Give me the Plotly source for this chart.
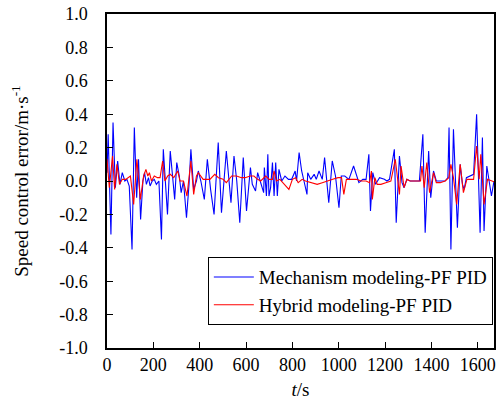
import plotly.graph_objects as go

# Mechanism modeling-PF PID (blue)
t_mech = [0, 5, 17, 26, 36, 46, 56, 66, 77, 86, 96, 108, 118, 128, 136, 145, 155, 162, 170, 179,
          186, 195, 204, 213, 224, 235, 243, 252, 261, 273, 283, 292, 301, 312, 320, 330, 343, 354,
          362, 374, 386, 394, 405, 420, 433, 447, 462, 480, 494, 515, 535, 548, 560, 573, 588, 602,
          619, 627, 641, 650, 661, 668, 676, 679, 688, 694, 699, 706, 714, 721, 728, 735, 742, 754,
          768, 783, 797, 812, 818, 829, 840, 850, 863, 866, 879, 894, 903, 915, 929, 939, 947, 957,
          972, 986, 1001, 1011, 1026, 1044, 1064, 1076, 1087, 1104, 1118, 1130, 1137, 1147, 1159,
          1176, 1197, 1208, 1219, 1240, 1248, 1262, 1273, 1282, 1294, 1308, 1329, 1348, 1363, 1373,
          1388, 1397, 1409, 1421, 1438, 1459, 1471, 1476, 1484, 1495, 1512, 1524, 1534, 1541, 1551,
          1566, 1582, 1595, 1610, 1620, 1627, 1639, 1659, 1670]
v_mech = [0.05, 0.28, -0.32, 0.35, -0.04, 0.12, -0.02, 0.05, 0.0, 0.01, -0.03, -0.41, 0.32, -0.10,
          0.13, -0.23, 0.0, 0.05, -0.02, 0.02, -0.03, 0.0, 0.01, -0.02, 0.0, -0.35, 0.19, 0.0, -0.20,
          0.18, 0.02, -0.11, 0.11, 0.03, -0.07, 0.0, -0.22, -0.02, 0.19, -0.05, 0.0, 0.06, 0.0, -0.11,
          0.13, -0.05, -0.20, 0.23, -0.19, 0.18, -0.13, 0.15, 0.0, -0.25, 0.14, -0.18, 0.08, -0.02,
          -0.06, 0.05, 0.0, -0.04, -0.07, 0.08, -0.09, 0.16, -0.09, -0.04, 0.11, -0.09, 0.11, -0.09,
          0.07, 0.0, 0.03, 0.01, 0.01, 0.06, 0.0, 0.17, 0.06, 0.0, -0.08, 0.05, 0.01, 0.04, 0.01,
          0.06, 0.01, 0.14, 0.0, -0.13, 0.12, 0.03, -0.16, 0.03, 0.03, 0.01, 0.09, 0.03, -0.01, 0.01,
          0.01, 0.16, -0.18, 0.05, -0.02, 0.02, 0.01, 0.0, 0.01, 0.19, -0.25, 0.15, -0.01, -0.04,
          0.01, 0.0, 0.0, 0.0, 0.28, -0.31, 0.18, -0.10, 0.06, 0.0, 0.0, 0.0, 0.02, 0.32, -0.41,
          0.31, -0.28, 0.10, -0.02, -0.05, 0.02, 0.03, 0.04, 0.40, -0.31, 0.26, -0.30, 0.09, -0.09,
          0.0]

# Hybrid modeling-PF PID (red)
t_hyb = [0, 10, 24, 33, 43, 54, 66, 81, 101, 115, 129, 144, 158, 168, 176, 183, 192, 204, 218, 229,
         240, 250, 262, 273, 288, 305, 315, 330, 345, 362, 374, 386, 394, 415, 444, 465, 481, 501,
         515, 538, 559, 580, 596, 618, 634, 650, 663, 685, 700, 714, 721, 731, 746, 764, 785, 800,
         814, 825, 842, 857, 886, 907, 929, 948, 974, 997, 1012, 1022, 1033, 1054, 1076, 1097, 1118,
         1133, 1141, 1145, 1156, 1166, 1182, 1203, 1225, 1244, 1262, 1269, 1282, 1294, 1308, 1331,
         1353, 1359, 1369, 1380, 1392, 1409, 1421, 1438, 1459, 1475, 1484, 1495, 1509, 1524, 1538,
         1553, 1568, 1582, 1595, 1606, 1613, 1627, 1642, 1656, 1670]
v_hyb = [0.13, -0.04, 0.15, -0.05, 0.10, -0.02, 0.01, 0.01, 0.03, -0.14, 0.13, -0.11, 0.03, 0.07,
         0.03, 0.05, 0.0, 0.03, 0.02, 0.02, 0.12, 0.0, 0.03, 0.04, 0.02, 0.06, 0.0, 0.0, -0.09, 0.12,
         -0.08, 0.03, 0.05, 0.01, 0.01, 0.04, 0.02, 0.01, -0.01, 0.03, 0.03, 0.02, 0.02, 0.03, 0.03,
         0.01, 0.0, 0.03, 0.01, 0.01, 0.06, 0.0, 0.01, -0.02, -0.05, 0.01, 0.02, -0.01, 0.01, 0.0,
         -0.01, -0.02, -0.01, 0.0, 0.01, 0.02, 0.02, -0.08, 0.01, 0.01, 0.01, 0.0, 0.0, -0.01, 0.06,
         -0.11, 0.02, -0.02, -0.02, -0.01, 0.0, 0.13, -0.08, 0.09, -0.04, 0.01, 0.0, 0.0, 0.0, 0.09,
         -0.04, 0.11, -0.07, 0.05, -0.01, -0.01, 0.0, 0.02, 0.10, 0.02, -0.14, 0.10, -0.07, 0.01,
         0.01, 0.01, 0.21, 0.01, 0.16, -0.14, 0.01, 0.0, -0.005]

x_ticks = [0, 200, 400, 600, 800, 1000, 1200, 1400, 1600]
y_ticks = [-1.0, -0.8, -0.6, -0.4, -0.2, 0.0, 0.2, 0.4, 0.6, 0.8, 1.0]

FONT = "Liberation Serif"

fig = go.Figure()
fig.add_trace(go.Scatter(x=t_mech, y=v_mech, mode="lines", name="Mechanism modeling-PF PID",
                         line=dict(color="#0000FF", width=1.1)))
fig.add_trace(go.Scatter(x=t_hyb, y=v_hyb, mode="lines", name="Hybrid modeling-PF PID",
                         line=dict(color="#FF0000", width=1.1)))

axis_common = dict(showline=True, linecolor="black", linewidth=1.5, mirror=True,
                   ticks="inside", ticklen=6, tickwidth=1.3, tickcolor="black", automargin=False,
                   showgrid=False, zeroline=False, tickfont=dict(family=FONT, size=18, color="black"))

fig.update_layout(
    width=497, height=400,
    margin=dict(l=107, r=3, t=14, b=52),
    paper_bgcolor="white", plot_bgcolor="white",
    font=dict(family=FONT, color="black"),
    xaxis=dict(range=[0, 1670], tickvals=x_ticks, ticktext=[str(v) for v in x_ticks],
               title=dict(text="<i>t</i>/s", font=dict(family=FONT, size=19), standoff=12),
               **axis_common),
    yaxis=dict(range=[-1, 1], tickvals=y_ticks, ticktext=[f"{v:.1f}" for v in y_ticks],
               ticklabelstandoff=14,
               title=dict(text="Speed control error/m·s<sup>-1</sup>", font=dict(family=FONT, size=19),
                          standoff=26),
               **axis_common),
    showlegend=True,
    legend=dict(x=0.997, xanchor="right", y=0.17, yanchor="middle",
                bordercolor="black", borderwidth=1, bgcolor="white",
                font=dict(family=FONT, size=19, color="black"), tracegroupgap=0,
                itemwidth=40),
)

fig.write_html("out.html")
